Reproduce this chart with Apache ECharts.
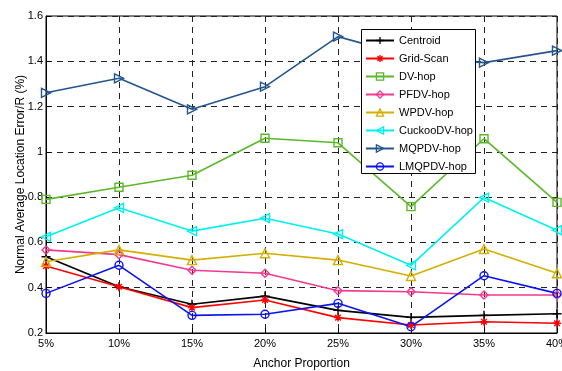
<!DOCTYPE html>
<html>
<head>
<meta charset="utf-8">
<script src="https://cdn.jsdelivr.net/npm/echarts@6/dist/echarts.min.js"></script>
<style>
html,body{margin:0;padding:0;background:#fff;}
#chart{width:562px;height:371px;}
</style>
</head>
<body>
<div id="chart"></div>
<script>
var categories = ['5%','10%','15%','20%','25%','30%','35%','40%'];
var yTicks = [0.2,0.4,0.6,0.8,1.0,1.2,1.4,1.6];
var centroid = [0.537,0.404,0.327,0.363,0.300,0.269,0.278,0.285];
var gridScan = [0.496,0.404,0.312,0.346,0.268,0.235,0.250,0.243];
var dvHop    = [0.790,0.844,0.897,1.060,1.040,0.758,1.058,0.777];
var pfdvHop  = [0.567,0.546,0.477,0.464,0.387,0.382,0.368,0.368];
var wpdvHop  = [0.515,0.567,0.522,0.552,0.522,0.452,0.571,0.464];
var cuckooDvHop = [0.625,0.753,0.650,0.707,0.637,0.499,0.798,0.654];
var mqpdvHop = [1.261,1.325,1.188,1.288,1.509,1.420,1.394,1.447];
var lmqpdvHop = [0.375,0.499,0.278,0.283,0.331,0.228,0.453,0.375];

var chart = echarts.init(document.getElementById('chart'), null, {renderer:'canvas'});
var FONT = 'Liberation Sans, Arial, sans-serif';

function mk(name, data, color, symbol, size, rotate, fill) {
  return {
    name: name, type: 'line', data: data, clip: false,
    symbol: symbol, symbolSize: size, symbolRotate: rotate || 0,
    color: color,
    lineStyle: {color: color, width: 1.6},
    itemStyle: {color: fill || 'rgba(0,0,0,0)', borderColor: color, borderWidth: 1.4},
    emphasis: {disabled: true},
    _fill: fill || 'rgba(0,0,0,0)'
  };
}
var plusPath = 'path://M0,5 L10,5 M5,0 L5,10';
var starPath = 'path://M5,0 L5,10 M0,5 L10,5 M1.5,1.5 L8.5,8.5 M8.5,1.5 L1.5,8.5';

var series = [
  mk('Centroid', centroid, '#000000', plusPath, 9, 0),
  mk('Grid-Scan', gridScan, '#ff0000', starPath, 8, 0, '#ff0000'),
  mk('DV-hop', dvHop, '#5cb82a', 'rect', 8, 0),
  mk('PFDV-hop', pfdvHop, '#f2398f', 'diamond', 8, 0),
  mk('WPDV-hop', wpdvHop, '#d4af00', 'triangle', 9, 0),
  mk('CuckooDV-hop', cuckooDvHop, '#00f0f0', 'triangle', 9, 90),
  mk('MQPDV-hop', mqpdvHop, '#24558f', 'triangle', 9, -90),
  mk('LMQPDV-hop', lmqpdvHop, '#0a14f0', 'circle', 8, 0)
];
var legendData = series.map(function(s){
  var d = {name: s.name, itemStyle: {color: s._fill, borderColor: s.color, borderWidth: 1.3}};
  delete s._fill;
  return d;
});

var option = {
  backgroundColor: '#ffffff',
  animation: false,
  textStyle: {fontFamily: FONT},
  grid: {left: 46, right: 5, top: 16, bottom: 38, show: true, borderColor: '#000', borderWidth: 1,
         containLabel: false, outerBoundsMode: 'none'},
  graphic: [{
    type: 'rect', z: 50, left: 361, top: 29,
    shape: {width: 114, height: 144},
    style: {fill: '#fff', stroke: '#000', lineWidth: 1}
  }],
  legend: {
    z: 60, orient: 'vertical', left: 365, top: 34,
    itemWidth: 28, itemHeight: 9, itemGap: 5,
    padding: 0,
    textStyle: {fontFamily: FONT, fontSize: 11, color: '#000', lineHeight: 13},
    data: legendData
  },
  xAxis: {
    type: 'category', data: categories, boundaryGap: false,
    name: 'Anchor Proportion', nameLocation: 'middle', nameGap: 25, nameMoveOverlap: false,
    nameTextStyle: {fontFamily: FONT, fontSize: 12, color: '#000'},
    axisLine: {lineStyle: {color: '#000', width: 1}},
    axisTick: {inside: true, length: 5, lineStyle: {color: '#000'}},
    axisLabel: {fontFamily: FONT, fontSize: 11, color: '#000', margin: 5},
    splitLine: {show: true, lineStyle: {color: '#222', type: [6,5], width: 1}}
  },
  yAxis: {
    type: 'value', min: 0.2, max: 1.6, interval: 0.2,
    name: 'Normal Average Location Error/R (%)', nameLocation: 'middle', nameGap: 19, nameMoveOverlap: false,
    nameTextStyle: {fontFamily: FONT, fontSize: 12, color: '#000'},
    axisLine: {show: true, lineStyle: {color: '#000', width: 1}},
    axisTick: {show: true, inside: true, length: 5, lineStyle: {color: '#000'}},
    axisLabel: {fontFamily: FONT, fontSize: 11, color: '#000', margin: 3,
      formatter: function(v){ var r = Math.round(v*10)/10; return r === 1 ? '1' : r.toFixed(1); }},
    splitLine: {show: true, lineStyle: {color: '#222', type: [6,5], width: 1}}
  },
  series: series
};
chart.setOption(option);
</script>
</body>
</html>
